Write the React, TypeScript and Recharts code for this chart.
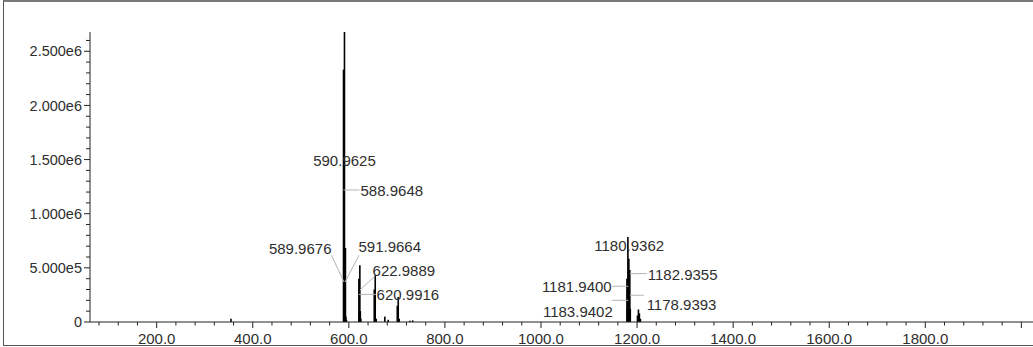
import { Bar, BarChart, ReferenceDot, XAxis, YAxis } from "recharts";

// peak list (m/z, intensity)
const PEAK_MZ = [
  354.7, 588.9648, 589.9676, 590.9625, 591.9664, 592.96, 593.96, 595.0,
  620.9916, 621.99, 622.9889, 623.99, 624.99, 652.97, 654.97, 656.97,
  675.0, 682.0, 700.9, 702.9, 704.9, 727.0, 733.0,
  1178.9393, 1179.94, 1180.9362, 1181.94, 1182.9355, 1183.9402, 1184.93,
  1185.94, 1200.9, 1202.9, 1204.9, 1207.0,
];
const PEAK_INTENSITY = [
  30000, 2330000, 550000, 2678000, 620000, 683000, 50000, 20000,
  400000, 80000, 524000, 100000, 30000, 300000, 431000, 30000,
  50000, 20000, 150000, 230000, 30000, 12000, 15000,
  400000, 120000, 785000, 340000, 585000, 220000, 480000,
  120000, 60000, 115000, 80000, 30000,
];

// annotated peaks
const LABEL_MZ = [
  590.9625, 588.9648, 589.9676, 591.9664, 622.9889, 620.9916,
  1180.9362, 1182.9355, 1181.94, 1178.9393, 1183.9402,
];
const LABEL_TEXT = [
  "590.9625", "588.9648", "589.9676", "591.9664", "622.9889", "620.9916",
  "1180.9362", "1182.9355", "1181.9400", "1178.9393", "1183.9402",
];

const X_MAJOR = [200, 400, 600, 800, 1000, 1200, 1400, 1600, 1800];
const Y_MAJOR = [0, 500000, 1000000, 1500000, 2000000, 2500000];

const X_DOMAIN = [61.2, 2024.2];
const Y_MAX = 2678000;

const data = PEAK_MZ.map((mz, i) => ({ mz, intensity: PEAK_INTENSITY[i] }));

const xTicks: number[] = [];
for (let v = 80; v <= 2000; v += 40) xTicks.push(v);
const yTicks: number[] = [];
for (let v = 0; v <= 2600000; v += 100000) yTicks.push(v);

// where each label's leader touches the peak, and pixel offsets for leader / text
const LABEL_LAYOUT = [
  { at: 1489000, lead: null, tx: 0, ty: 0, anchor: "middle" },
  { at: 1219000, lead: [0, 0, 16, 0], tx: 17, ty: 1, anchor: "start" },
  { at: 369000, lead: [0, 0, -12.5, -26.7], tx: -12.5, ty: -33.7, anchor: "end" },
  { at: 369000, lead: [0, 0, 14, -26.7], tx: 13.5, ty: -35.7, anchor: "start" },
  { at: 293000, lead: [0, 0, 15, -14.3], tx: 12.7, ty: -19.5, anchor: "start" },
  { at: 255000, lead: [0, 0, 17, 0], tx: 17.7, ty: 0, anchor: "start" },
  { at: 708000, lead: null, tx: 1.3, ty: 0, anchor: "middle" },
  { at: 447000, lead: [1, 0, 18, 0], tx: 18.9, ty: 1.2, anchor: "start" },
  { at: 330000, lead: [0, 0, -16, 0], tx: -16.7, ty: 0, anchor: "end" },
  { at: 247000, lead: [3, 0, 17, 0], tx: 19.7, ty: 9, anchor: "start" },
  { at: 200000, lead: [-1, 0, -17, 0], tx: -16.6, ty: 11, anchor: "end" },
];

const FONT = "'Liberation Sans', Arial, sans-serif";
const TEXT = "#2e2e2e";
const AXIS = "#222";

const formatY = (v: number) => {
  if (v === 0) return "0";
  const e = Math.floor(Math.log10(v));
  return `${(v / Math.pow(10, e)).toFixed(3)}e${e}`;
};

const XTick = (props: any) => {
  const { x, y, payload } = props;
  const v = payload.value;
  const major = v % 200 === 0;
  return (
    <g>
      <line x1={x} x2={x} y1={y} y2={y + (major ? 6 : 3.5)} stroke={AXIS} />
      {major && X_MAJOR.includes(v) && (
        <text x={x} y={y + 21.5} textAnchor="middle" fontSize={15} fontFamily={FONT} fill={TEXT}>
          {v.toFixed(1)}
        </text>
      )}
    </g>
  );
};

const YTick = (props: any) => {
  const { x, y, payload } = props;
  const v = payload.value;
  const major = Y_MAJOR.includes(v);
  return (
    <g>
      <line x1={x - (major ? 6 : 4)} x2={x} y1={y} y2={y} stroke={AXIS} />
      {major && (
        <text x={x - 8} y={y + 5.2} textAnchor="end" fontSize={14.5} fontFamily={FONT} fill={TEXT}>
          {formatY(v)}
        </text>
      )}
    </g>
  );
};

const Stick = (p: any) => {
  if (!p.height || p.height <= 0) return <g />;
  const cx = p.x + p.width / 2;
  return <rect x={cx - 0.8} y={p.y} width={1.6} height={p.height} fill="#000" />;
};

const makeLabel = (i: number) => (p: any) => {
  const { cx, cy } = p;
  const l = LABEL_LAYOUT[i];
  return (
    <g>
      {l.lead && (
        <line
          x1={cx + l.lead[0]}
          y1={cy + l.lead[1]}
          x2={cx + l.lead[2]}
          y2={cy + l.lead[3]}
          stroke="#b4b4b4"
          strokeWidth={1}
        />
      )}
      <text
        x={cx + l.tx}
        y={cy + l.ty + 5.5}
        textAnchor={l.anchor as any}
        fontSize={15}
        fontFamily={FONT}
        fill={TEXT}
      >
        {LABEL_TEXT[i]}
      </text>
    </g>
  );
};

export default function App() {
  return (
    <div style={{ position: "absolute", left: 0, top: 0, width: 1033, height: 347, background: "#fff" }}>
      <div
        style={{
          position: "absolute",
          left: 3,
          top: 0,
          width: 1029,
          height: 343,
          borderTop: "2px solid #7a7a7a",
          borderLeft: "1px solid #555",
          borderBottom: "1px solid #555",
        }}
      />
      <BarChart
        width={1033}
        height={347}
        data={data}
        margin={{ top: 32, right: 0, bottom: 0, left: 0 }}
        style={{ position: "absolute", left: 0, top: 0 }}
      >
        <XAxis
          type="number"
          dataKey="mz"
          domain={X_DOMAIN}
          allowDataOverflow
          ticks={xTicks}
          interval={0}
          height={25}
          tickSize={0}
          tickMargin={0}
          tickLine={false}
          axisLine={{ stroke: AXIS }}
          tick={XTick}
        />
        <YAxis
          type="number"
          domain={[0, Y_MAX]}
          allowDataOverflow
          ticks={yTicks}
          interval={0}
          width={90}
          tickSize={0}
          tickMargin={0}
          tickLine={false}
          axisLine={{ stroke: AXIS }}
          tick={YTick}
        />
        <Bar dataKey="intensity" barSize={2} shape={Stick} isAnimationActive={false} />
        {LABEL_MZ.map((mz, i) => (
          <ReferenceDot
            key={LABEL_TEXT[i]}
            x={mz}
            y={LABEL_LAYOUT[i].at}
            r={0}
            ifOverflow="visible"
            shape={makeLabel(i)}
          />
        ))}
      </BarChart>
    </div>
  );
}
